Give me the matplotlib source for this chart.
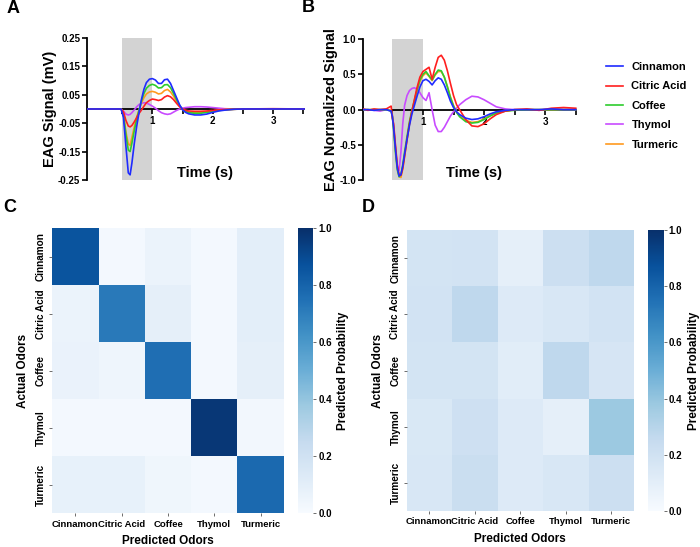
import numpy as np
import matplotlib
matplotlib.use("Agg")
import matplotlib.pyplot as plt
import seaborn as sns

plt.rcParams['font.family'] = ['Liberation Sans', 'DejaVu Sans']
plt.rcParams['font.weight'] = 'bold'
plt.rcParams['axes.labelweight'] = 'bold'

odors = ['Cinnamon', 'Citric Acid', 'Coffee', 'Thymol', 'Turmeric']
line_colors = {'Cinnamon': '#1f2bff', 'Citric Acid': '#ff1f1f', 'Coffee': '#2ecc2e',
               'Thymol': '#c84bff', 'Turmeric': '#ff9a1f'}

# panel A: raw EAG signal (mV)
t_a = [-0.08, 0.48, 0.52, 0.56, 0.6, 0.63, 0.66, 0.7, 0.74, 0.78, 0.82, 0.86, 0.9, 0.95,
       1.0, 1.05, 1.1, 1.15, 1.2, 1.25, 1.3, 1.35, 1.4, 1.45, 1.5, 1.55, 1.6, 1.7, 1.8,
       1.9, 2.0, 2.1, 2.2, 2.35, 2.5, 3.0, 3.53]
a_cinnamon = [0, 0, -0.03, -0.13, -0.225, -0.232, -0.19, -0.12, -0.06, -0.01, 0.035, 0.07,
              0.093, 0.105, 0.107, 0.102, 0.09, 0.09, 0.103, 0.105, 0.09, 0.065, 0.04, 0.015,
              -0.003, -0.012, -0.017, -0.021, -0.021, -0.018, -0.012, -0.007, -0.004, -0.001,
              0, 0, 0]
a_citric = [0, 0, -0.01, -0.04, -0.06, -0.063, -0.058, -0.045, -0.03, -0.015, -0.003, 0.01,
            0.022, 0.03, 0.035, 0.033, 0.03, 0.033, 0.042, 0.047, 0.043, 0.033, 0.02, 0.008,
            0.0, -0.004, -0.007, -0.008, -0.008, -0.007, -0.005, -0.003, -0.002, -0.001, 0.0,
            0.001, 0.0]
a_coffee = [0, 0, -0.02, -0.09, -0.145, -0.15, -0.12, -0.075, -0.035, -0.003, 0.03, 0.055,
            0.073, 0.083, 0.087, 0.083, 0.074, 0.075, 0.085, 0.086, 0.075, 0.055, 0.033, 0.013,
            -0.002, -0.009, -0.013, -0.015, -0.015, -0.012, -0.008, -0.005, -0.003, -0.001,
            0, 0, 0]
a_thymol = [0, 0, -0.008, -0.018, -0.021, -0.019, -0.013, -0.003, 0.008, 0.016, 0.02, 0.022,
            0.021, 0.016, 0.01, 0.003, -0.006, -0.013, -0.017, -0.019, -0.017, -0.011, -0.005,
            0.0, 0.003, 0.005, 0.006, 0.008, 0.008, 0.007, 0.005, 0.003, 0.001, 0.0, 0.0, 0.0,
            0.0]
a_turmeric = [0, 0, -0.018, -0.08, -0.123, -0.128, -0.1, -0.062, -0.028, -0.002, 0.022, 0.04,
              0.053, 0.06, 0.062, 0.059, 0.053, 0.055, 0.065, 0.069, 0.06, 0.045, 0.027, 0.01,
              -0.002, -0.008, -0.011, -0.012, -0.012, -0.01, -0.007, -0.004, -0.002, -0.001,
              0, 0, 0]

# panel B: normalized EAG signal
t_b = [0.02, 0.1, 0.2, 0.3, 0.4, 0.48, 0.5, 0.52, 0.55, 0.58, 0.61, 0.64, 0.67, 0.7, 0.74,
       0.78, 0.82, 0.86, 0.9, 0.95, 1.0, 1.05, 1.1, 1.15, 1.2, 1.25, 1.3, 1.35, 1.4, 1.45,
       1.5, 1.55, 1.6, 1.7, 1.8, 1.9, 2.0, 2.1, 2.2, 2.35, 2.5, 2.7, 2.9, 3.1, 3.3, 3.5]
b_cinnamon = [0, 0, -0.01, 0, 0, -0.02, -0.1, -0.25, -0.55, -0.82, -0.94, -0.92, -0.8, -0.63,
              -0.42, -0.22, -0.06, 0.06, 0.18, 0.32, 0.41, 0.43, 0.4, 0.35, 0.41, 0.45, 0.43,
              0.35, 0.24, 0.12, 0.03, -0.03, -0.07, -0.12, -0.14, -0.13, -0.1, -0.06, -0.03,
              -0.01, 0, 0, 0, 0.01, 0, 0]
b_citric = [0.01, -0.01, 0.01, 0.0, 0.01, 0.05, -0.12, -0.2, -0.5, -0.78, -0.92, -0.93, -0.83,
            -0.66, -0.42, -0.2, -0.02, 0.14, 0.3, 0.46, 0.54, 0.57, 0.6, 0.43, 0.6, 0.74, 0.77,
            0.7, 0.55, 0.37, 0.2, 0.07, 0.0, -0.14, -0.23, -0.24, -0.2, -0.13, -0.07, -0.02,
            0.0, 0.01, -0.01, 0.02, 0.03, 0.02]
b_coffee = [0, 0, 0, 0, 0, -0.02, -0.1, -0.28, -0.6, -0.85, -0.95, -0.92, -0.78, -0.6, -0.38,
            -0.17, -0.01, 0.13, 0.27, 0.42, 0.5, 0.54, 0.48, 0.42, 0.5, 0.56, 0.55, 0.46, 0.32,
            0.17, 0.05, -0.04, -0.1, -0.17, -0.19, -0.18, -0.14, -0.09, -0.05, -0.02, -0.01,
            0, 0, 0, 0, 0]
b_thymol = [0, 0, -0.01, -0.02, 0, -0.02, -0.08, -0.22, -0.52, -0.8, -0.86, -0.6, -0.2, 0.06,
            0.2, 0.27, 0.3, 0.31, 0.29, 0.24, 0.17, 0.13, 0.24, 0.0, -0.22, -0.31, -0.31, -0.25,
            -0.17, -0.09, -0.03, 0.02, 0.07, 0.14, 0.19, 0.18, 0.14, 0.09, 0.04, 0.01, 0, 0, 0,
            0, 0, 0]
b_turmeric = [0, 0, 0, 0, 0, -0.01, -0.08, -0.24, -0.55, -0.82, -0.95, -0.96, -0.84, -0.66,
              -0.43, -0.2, -0.03, 0.1, 0.25, 0.4, 0.48, 0.52, 0.47, 0.41, 0.49, 0.54, 0.54,
              0.46, 0.33, 0.18, 0.06, -0.03, -0.09, -0.15, -0.18, -0.17, -0.13, -0.08, -0.04,
              -0.02, 0, 0, 0, 0, 0, 0]

# panels C and D: predicted probability matrices (rows = actual, cols = predicted)
prob_c = [[0.86, 0.02, 0.06, 0.02, 0.10],
          [0.06, 0.72, 0.09, 0.02, 0.10],
          [0.07, 0.05, 0.76, 0.02, 0.09],
          [0.02, 0.02, 0.02, 0.97, 0.03],
          [0.08, 0.08, 0.04, 0.02, 0.78]]
prob_d = [[0.18, 0.19, 0.09, 0.22, 0.27],
          [0.19, 0.27, 0.13, 0.16, 0.19],
          [0.18, 0.18, 0.11, 0.27, 0.17],
          [0.15, 0.21, 0.13, 0.09, 0.38],
          [0.16, 0.23, 0.13, 0.16, 0.22]]

stim_on, stim_off = 0.5, 1.0


def trace_panel(ax, t, series, ylim, yticks, ytick_labels, ylabel, xlim, time_x):
    ax.axvspan(stim_on, stim_off, color='#d3d3d3', lw=0, zorder=0)
    for name in ['Thymol', 'Turmeric', 'Coffee', 'Citric Acid', 'Cinnamon']:
        ax.plot(t, series[name], color=line_colors[name], lw=1.2, label=name, zorder=3)
    ax.set_xlim(*xlim)
    ax.set_ylim(*ylim)
    ax.spines['top'].set_visible(False)
    ax.spines['right'].set_visible(False)
    ax.spines['left'].set_bounds(*ylim)
    ax.spines['left'].set_linewidth(1.3)
    ax.spines['bottom'].set_position(('data', 0))
    ax.spines['bottom'].set_bounds(0.5, 3.5)
    ax.spines['bottom'].set_linewidth(1.3)
    ax.spines['bottom'].set_zorder(2)
    ax.set_xticks([0.5, 1, 1.5, 2, 2.5, 3, 3.5])
    ax.set_xticklabels(['', '1', '', '2', '', '3', ''])
    ax.set_yticks(yticks)
    ax.set_yticklabels(ytick_labels)
    ax.tick_params(axis='both', labelsize=7, width=1.2, length=3.5, pad=1.5)
    ax.set_ylabel(ylabel, fontsize=10.5, labelpad=1)
    ax.text(time_x, 0.0, 'Time (s)', transform=ax.transAxes, ha='left', va='bottom',
            fontsize=10.5, fontweight='bold')


fig = plt.figure(figsize=(7, 5.47), dpi=100)

ax_a = fig.add_axes([0.1247, 0.671, 0.311, 0.2595])
trace_panel(ax_a, t_a,
            {'Cinnamon': a_cinnamon, 'Citric Acid': a_citric, 'Coffee': a_coffee,
             'Thymol': a_thymol, 'Turmeric': a_turmeric},
            (-0.25, 0.25), [-0.25, -0.15, -0.05, 0.05, 0.15, 0.25],
            ['-0.25', '-0.15', '-0.05', '0.05', '0.15', '0.25'],
            'EAG Signal (mV)', (-0.08, 3.53), 0.41)

ax_b = fig.add_axes([0.5186, 0.6704, 0.3057, 0.2583])
trace_panel(ax_b, t_b,
            {'Cinnamon': b_cinnamon, 'Citric Acid': b_citric, 'Coffee': b_coffee,
             'Thymol': b_thymol, 'Turmeric': b_turmeric},
            (-1.0, 1.0), [-1.0, -0.5, 0.0, 0.5, 1.0],
            ['-1.0', '-0.5', '0.0', '0.5', '1.0'],
            'EAG Normalized Signal', (0.02, 3.52), 0.39)

handles, labels = ax_b.get_legend_handles_labels()
order = [labels.index(o) for o in odors]
fig.legend([handles[i] for i in order], odors, loc='upper left',
           bbox_to_anchor=(0.852, 0.905), frameon=False, fontsize=8,
           handlelength=1.5, handletextpad=0.75, labelspacing=0.85)


def heat_panel(ax, cax, data):
    sns.heatmap(np.array(data), ax=ax, cbar_ax=cax, cmap='Blues', vmin=0, vmax=1,
                xticklabels=odors, yticklabels=odors)
    ax.set_yticklabels(odors, rotation=90, va='center', fontsize=7.2, fontweight='bold')
    ax.set_xticklabels(odors, rotation=0, fontsize=6.8, fontweight='bold')
    ax.tick_params(axis='both', length=2.5, width=0.6, color='#555555', pad=2)
    ax.set_xlabel('Predicted Odors', fontsize=8.5, labelpad=5)
    ax.set_ylabel('Actual Odors', fontsize=8.5, labelpad=5)
    cax.set_yticks([0, 0.2, 0.4, 0.6, 0.8, 1.0])
    cax.set_yticklabels(['0.0', '0.2', '0.4', '0.6', '0.8', '1.0'])
    cax.tick_params(labelsize=7, length=2.5, width=0.6, color='#555555', pad=1)
    cax.set_ylabel('Predicted Probability', fontsize=8.5, labelpad=4)


ax_c = fig.add_axes([0.0747, 0.0616, 0.3306, 0.521])
cax_c = fig.add_axes([0.4253, 0.0616, 0.0223, 0.521])
heat_panel(ax_c, cax_c, prob_c)

ax_d = fig.add_axes([0.581, 0.0658, 0.3247, 0.5137])
cax_d = fig.add_axes([0.926, 0.0658, 0.0224, 0.5137])
heat_panel(ax_d, cax_d, prob_d)

for letter, x, y in [('A', 0.018, 0.985), ('B', 0.44, 0.987), ('C', 0.014, 0.62), ('D', 0.526, 0.62)]:
    fig.text(x, y, letter, fontsize=13, fontweight='bold', ha='center', va='center')

fig.savefig('out.png', dpi=100)
